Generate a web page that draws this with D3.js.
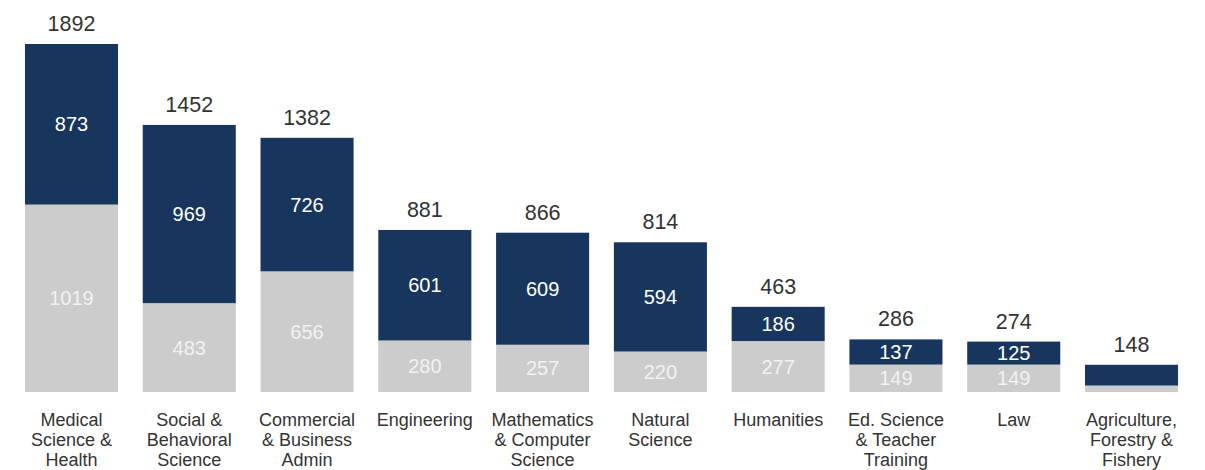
<!DOCTYPE html>
<html>
<head>
<meta charset="utf-8">
<script src="https://cdn.jsdelivr.net/npm/d3@7"></script>
<style>
  html, body { margin: 0; padding: 0; background: #fff; }
  svg { display: block; font-family: "Liberation Sans", Arial, sans-serif; }
</style>
</head>
<body>
<div id="chart"></div>
<script>
// categories, one array of lines per bar label
const categories = [
  ["Medical", "Science &", "Health"],
  ["Social &", "Behavioral", "Science"],
  ["Commercial", "& Business", "Admin"],
  ["Engineering"],
  ["Mathematics", "& Computer", "Science"],
  ["Natural", "Science"],
  ["Humanities"],
  ["Ed. Science", "& Teacher", "Training"],
  ["Law"],
  ["Agriculture,", "Forestry &", "Fishery"]
];
const lowerValues = [1019, 483, 656, 280, 257, 220, 277, 149, 149, 35];
const upperValues = [873, 969, 726, 601, 609, 594, 186, 137, 125, 113];

const width = 1205;
const height = 470;
const baseY = 392;
const topY = 44;

const totals = lowerValues.map((v, i) => v + upperValues[i]);
const keys = categories.map((c, i) => i);

const svg = d3.select("#chart")
  .append("svg")
  .attr("width", width)
  .attr("height", height);

const x = d3.scaleBand()
  .domain(keys)
  .range([12.6, 1190.4])
  .paddingInner(0.21)
  .paddingOuter(0.105);

const y = d3.scaleLinear()
  .domain([0, d3.max(totals)])
  .range([baseY, topY]);

// lower (grey) segments
svg.append("g").selectAll("rect")
  .data(lowerValues)
  .join("rect")
  .attr("x", (d, i) => x(i))
  .attr("width", x.bandwidth())
  .attr("y", d => y(d))
  .attr("height", d => baseY - y(d))
  .attr("fill", "#cccccc");

// upper (navy) segments
svg.append("g").selectAll("rect")
  .data(upperValues)
  .join("rect")
  .attr("x", (d, i) => x(i))
  .attr("width", x.bandwidth())
  .attr("y", (d, i) => y(lowerValues[i] + d))
  .attr("height", (d, i) => y(lowerValues[i]) - y(lowerValues[i] + d))
  .attr("fill", "#18365d");

const minLabelPx = 22;

// inner labels, grey segments
svg.append("g").selectAll("text")
  .data(lowerValues)
  .join("text")
  .filter(d => baseY - y(d) >= minLabelPx)
  .attr("x", (d, i) => x(i) + x.bandwidth() / 2)
  .attr("y", d => (baseY + y(d)) / 2)
  .attr("dy", "0.35em")
  .attr("text-anchor", "middle")
  .style("font-size", "20px")
  .style("fill", "#f2f2f2")
  .text(d => d);

// inner labels, navy segments
svg.append("g").selectAll("text")
  .data(upperValues)
  .join("text")
  .filter((d, i) => y(lowerValues[i]) - y(lowerValues[i] + d) >= minLabelPx)
  .attr("x", (d, i) => x(i) + x.bandwidth() / 2)
  .attr("y", (d, i) => (y(lowerValues[i]) + y(lowerValues[i] + d)) / 2)
  .attr("dy", "0.35em")
  .attr("text-anchor", "middle")
  .style("font-size", "20px")
  .style("fill", "#ffffff")
  .text(d => d);

// totals above bars
svg.append("g").selectAll("text")
  .data(totals)
  .join("text")
  .attr("x", (d, i) => x(i) + x.bandwidth() / 2)
  .attr("y", d => y(d) - 13)
  .attr("text-anchor", "middle")
  .style("font-size", "21.5px")
  .style("fill", "#333333")
  .text(d => d);

// category labels
const catG = svg.append("g").selectAll("text")
  .data(categories)
  .join("text")
  .attr("x", (d, i) => x(i) + x.bandwidth() / 2)
  .attr("y", 426)
  .attr("text-anchor", "middle")
  .style("font-size", "18px")
  .style("fill", "#333333");

catG.selectAll("tspan")
  .data(d => d)
  .join("tspan")
  .attr("x", function () { return this.parentNode.getAttribute("x"); })
  .attr("dy", (d, j) => j === 0 ? 0 : 20)
  .text(d => d);
</script>
</body>
</html>
